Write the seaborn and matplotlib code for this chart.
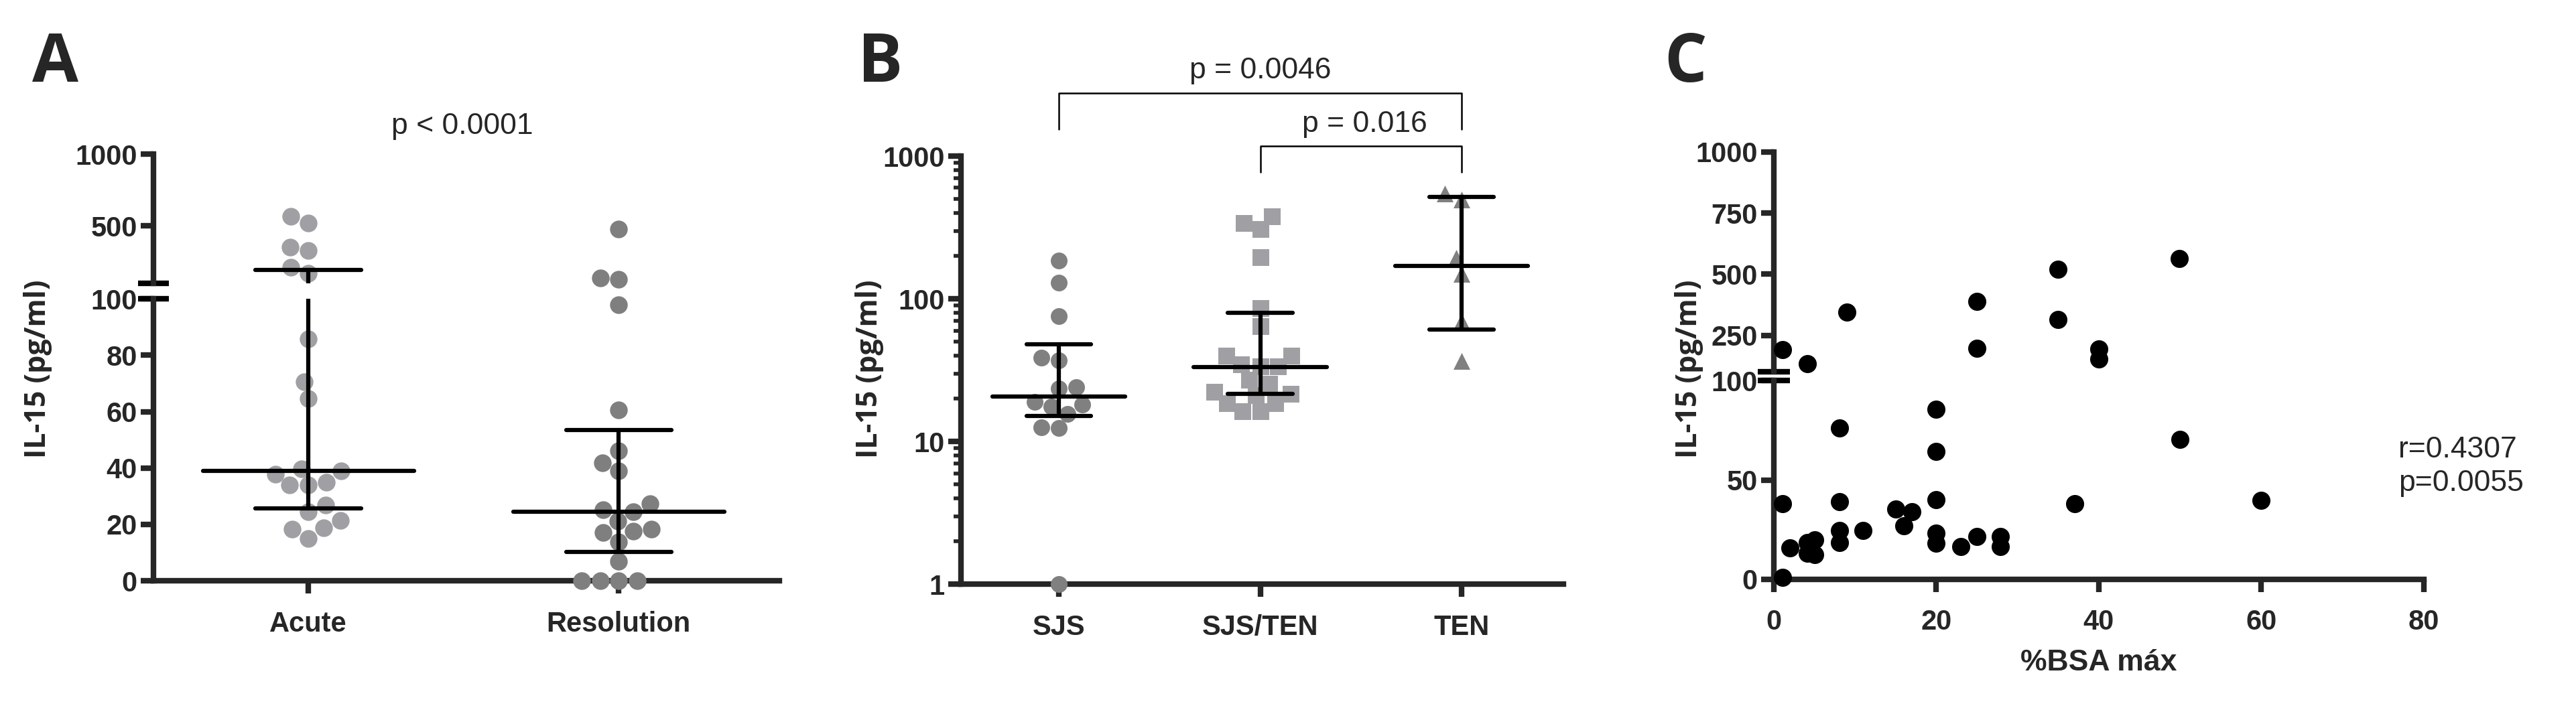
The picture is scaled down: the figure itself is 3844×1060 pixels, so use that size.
import matplotlib
matplotlib.use("Agg")
import matplotlib.pyplot as plt
import seaborn as sns
import numpy as np

# ---- panel A: acute vs resolution (pg/ml)
acute = [520, 564, 353, 327, 211, 170, 85.9, 70.7, 64.6, 39.7, 37.8, 38.9, 35.0, 33.9,
         33.9, 26.8, 24.4, 21.5, 18.8, 18.3, 15.1]
resolution = [476, 128, 135, 97.9, 60.6, 46.1, 41.8, 38.9, 27.3, 24.4, 25.2, 21.2, 18.3,
              17.2, 17.7, 13.7, 6.8, 0, 0, 0, 0]
a_groups = ["Acute", "Resolution"]
a_median = [38.9, 24.4]
a_q1 = [25.6, 10.3]
a_q3 = [191.6, 53.4]

# ---- panel B: by diagnosis (log scale)
sjs = [186, 130, 75.7, 38.6, 37.2, 23.5, 24.0, 18.9, 17.6, 18.2, 15.7, 12.6, 12.4, 1]
sjs_ten = [339, 310, 378, 195, 86, 64.5, 40, 40, 33.8, 33.8, 34.6, 27.2, 25.3, 22.3,
           21.2, 21.5, 18.6, 18.6, 16.3, 16.3]
ten = [546, 497, 193, 149, 69.4, 36.6]
b_groups = ["SJS", "SJS/TEN", "TEN"]
b_median = [20.6, 33.3, 170]
b_q1 = [15.2, 21.5, 61]
b_q3 = [48, 79.7, 521]

# ---- panel C: %BSA vs IL-15
bsa = [1.1, 4.1, 9.0, 25, 25, 35, 35, 40, 40, 49.9,
       20, 8.1, 20, 50, 1.1, 8.1, 20, 37, 60, 15, 17, 16, 11, 8.1, 8.1, 20, 20, 25, 23,
       27.9, 27.9, 2, 4.1, 5, 4.1, 5, 1.1]
il15 = [190.7, 135, 346, 389, 198, 520, 315, 194, 154, 565,
        85.5, 76.1, 64.5, 70.5, 38, 39.1, 40.2, 38, 39.8, 35.2, 34.1, 26.8, 24.5, 24.5,
        18.6, 23.2, 18.2, 21.4, 16.6, 21.6, 16.4, 15.9, 18.6, 19.8, 13.2, 12.5, 1.1]

sns.set_style("ticks")
NARROW = ["Liberation Sans Narrow", "Liberation Sans", "DejaVu Sans"]
LABEL = ["Open Sans", "DejaVu Sans"]
plt.rcParams["font.family"] = NARROW
plt.rcParams["font.weight"] = "bold"
plt.rcParams["axes.linewidth"] = 6
plt.rcParams["xtick.major.width"] = 6
plt.rcParams["ytick.major.width"] = 6
plt.rcParams["xtick.major.size"] = 14
plt.rcParams["ytick.major.size"] = 14
plt.rcParams["xtick.labelsize"] = 30
plt.rcParams["ytick.labelsize"] = 30

fig = plt.figure(figsize=(38.44, 10.6), dpi=100)
LW = 4.5


def style(ax, bottom=True):
    for s in ["top", "right"]:
        ax.spines[s].set_visible(False)
    if not bottom:
        ax.spines["bottom"].set_visible(False)
        ax.tick_params(axis="x", bottom=False, labelbottom=False)
    ax.set_xlabel("")
    ax.set_ylabel("")


def break_marks(upper, lower):
    for ax, y in [(upper, 0), (lower, 1)]:
        ax.plot([-0.025, 0.025], [y, y], transform=ax.transAxes, color="black",
                lw=6, clip_on=False, solid_capstyle="butt")


def med_iqr(axes, pos, med, q1, q3, mw, cw):
    for ax in axes:
        ax.plot([pos - mw, pos + mw], [med, med], color="black", lw=LW, zorder=5)
        ax.plot([pos - cw, pos + cw], [q1, q1], color="black", lw=LW, zorder=5)
        ax.plot([pos - cw, pos + cw], [q3, q3], color="black", lw=LW, zorder=5)
        ax.plot([pos, pos], [q1, q3], color="black", lw=LW, zorder=5)


# ================= A =================
axA_lo = fig.add_axes([0.0596, 0.182, 0.243, 0.397])
axA_hi = fig.add_axes([0.0596, 0.601, 0.243, 0.182])
a_colors = ["#a0a0a4", "#7f7f7f"]
for ax, lo, hi in [(axA_lo, -1, 100), (axA_hi, 100, 1e9)]:
    for g, vals, c in zip(a_groups, [acute, resolution], a_colors):
        v = [x for x in vals if lo < x <= hi] if lo >= 0 else [x for x in vals if x <= hi]
        sns.swarmplot(x=[g] * len(v), y=v, order=a_groups, color=c, size=19, ax=ax,
                      clip_on=False, zorder=3)
for i in range(2):
    med_iqr([axA_lo, axA_hi], i, a_median[i], a_q1[i], a_q3[i], 0.34, 0.17)
axA_lo.set_ylim(0, 100)
axA_lo.set_yticks([0, 20, 40, 60, 80, 100])
axA_hi.set_ylim(100, 1000)
axA_hi.set_yticks([500, 1000])
for ax in (axA_lo, axA_hi):
    ax.set_xlim(-0.499, 1.518)
style(axA_lo)
style(axA_hi, bottom=False)
axA_lo.tick_params(axis="x", pad=18)
break_marks(axA_hi, axA_lo)
fig.text(0.1795, 0.822, "p < 0.0001", ha="center", va="center", fontsize=32,
         fontweight="normal", family=NARROW)
fig.text(0.009, 0.48, "IL-15 (pg/ml)", rotation=90, ha="left", va="center", fontsize=31,
         fontweight="bold", family=LABEL)
fig.text(0.0125, 0.91, "A", fontsize=72, fontweight="bold", family=LABEL, va="center")

# ================= B =================
axB = fig.add_axes([0.373, 0.177, 0.234, 0.603])
axB.set_yscale("log")
for g, vals, c, m in zip(b_groups, [sjs, sjs_ten, ten], ["#808080", "#a0a0a4", "#808080"],
                         ["o", "s", "^"]):
    sns.swarmplot(x=[g] * len(vals), y=vals, order=b_groups, color=c, marker=m, size=18,
                  ax=axB, clip_on=False, zorder=3)
for i in range(3):
    med_iqr([axB], i, b_median[i], b_q1[i], b_q3[i], 0.33, 0.16)
axB.set_ylim(1, 1000)
axB.set_xlim(-0.487, 2.507)
axB.set_yticks([1, 10, 100, 1000])
axB.set_yticklabels(["1", "10", "100", "1000"])
axB.tick_params(axis="y", which="minor", length=8, width=4)
style(axB)
axB.tick_params(axis="x", pad=18)
for x0, x1, yb, yt, txt, ty in [(0, 2, 1.063, 1.148, "p = 0.0046", 1.20),
                                (1, 2, 0.963, 1.023, "p = 0.016", 1.075)]:
    axB.plot([x0, x0, x1, x1], [yb, yt, yt, yb], color="black", lw=1.8,
             transform=axB.get_xaxis_transform(), clip_on=False)
    axB.text((x0 + x1) / 2 if x0 == 0 else 1.52, ty, txt, ha="center", va="center",
             fontsize=32, fontweight="normal", family=NARROW,
             transform=axB.get_xaxis_transform())
fig.text(0.332, 0.48, "IL-15 (pg/ml)", rotation=90, ha="left", va="center", fontsize=31,
         fontweight="bold", family=LABEL)
fig.text(0.333, 0.91, "B", fontsize=72, fontweight="bold", family=LABEL, va="center")

# ================= C =================
axC_lo = fig.add_axes([0.6886, 0.184, 0.2523, 0.280])
axC_hi = fig.add_axes([0.6886, 0.476, 0.2523, 0.310])
bsa_a = np.array(bsa)
il_a = np.array(il15)
lo_mask = il_a <= 100
sns.scatterplot(x=bsa_a[lo_mask], y=il_a[lo_mask], color="black", s=380, ax=axC_lo,
                clip_on=False, linewidth=0, zorder=3)
sns.scatterplot(x=bsa_a[~lo_mask], y=il_a[~lo_mask], color="black", s=380, ax=axC_hi,
                clip_on=False, linewidth=0, zorder=3)
axC_lo.set_ylim(0, 100)
axC_lo.set_yticks([0, 50, 100])
axC_hi.set_ylim(100, 1000)
axC_hi.set_yticks([250, 500, 750, 1000])
for ax in (axC_lo, axC_hi):
    ax.set_xlim(0, 80)
axC_lo.set_xticks([0, 20, 40, 60, 80])
style(axC_lo)
style(axC_hi, bottom=False)
axC_lo.tick_params(axis="x", pad=18)
break_marks(axC_hi, axC_lo)
axC_lo.set_xlabel("%BSA máx", fontsize=32, fontweight="bold", family=NARROW, labelpad=14)
fig.text(0.931, 0.343, "r=0.4307\np=0.0055", ha="left", va="center", fontsize=32,
         fontweight="normal", family=NARROW, linespacing=1.3)
fig.text(0.65, 0.48, "IL-15 (pg/ml)", rotation=90, ha="left", va="center", fontsize=31,
         fontweight="bold", family=LABEL)
fig.text(0.646, 0.91, "C", fontsize=72, fontweight="bold", family=LABEL, va="center")

fig.savefig("out.png", dpi=100, facecolor="white")
